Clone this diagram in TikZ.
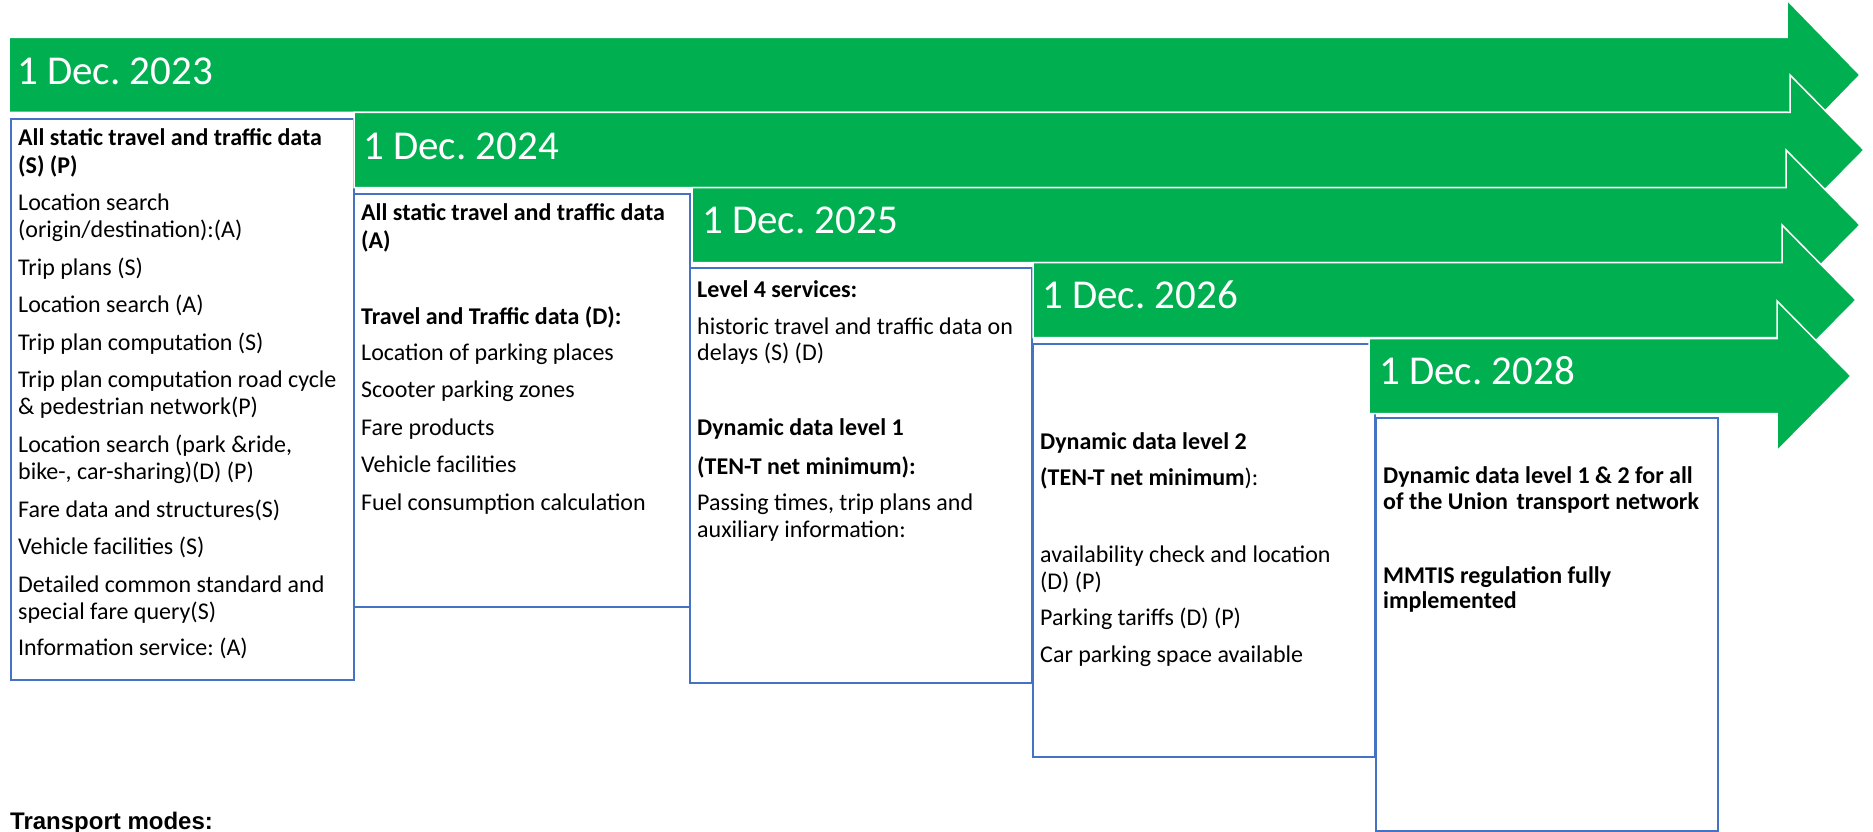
\documentclass[tikz,border=0pt]{standalone}
\usepackage{fontspec}
\setmainfont{Carlito}
\newfontfamily\arialfont{Liberation Sans}
\definecolor{arrgreen}{HTML}{00B050}
\definecolor{boxblue}{HTML}{4472C4}
\newcommand\greenarrow[4]{% left x, centre y, notch x, tip x
  \path[arrowbody] (#1,#2-37.5) -- (#3,#2-37.5) -- (#3,#2-75) -- (#4,#2)
    -- (#3,#2+75) -- (#3,#2+37.5) -- (#1,#2+37.5) -- cycle;}
\frenchspacing
\begin{document}
\begin{tikzpicture}[x=1pt,y=-1pt,
  boxframe/.style={draw=boxblue, line width=2pt, fill=white, inner sep=0pt, anchor=north west},
  arrowbody/.style={fill=arrgreen, draw=white, line width=1.5pt, line join=miter},
  datelabel/.style={text=white, font=\fontsize{41}{49}\selectfont, anchor=base west, inner sep=0pt},
  txt/.style={font=\fontsize{24}{27}\selectfont, anchor=base west, inner sep=0pt},
  btxt/.style={font=\fontsize{24}{27}\selectfont\bfseries, anchor=base west, inner sep=0pt}]
\useasboundingbox (0,0) rectangle (1873,832);
\fill[white] (0,0) rectangle (1873,832);

% ---- 2023
\greenarrow{9}{75}{1787}{1860}
\node[datelabel] (d23) at (17,85) {1 Dec. 2023};
\node[boxframe, minimum width=343pt, minimum height=561pt] (b1) at (10,118) {};
\node[btxt] (b1l1) at (18,146) {All static travel and traffic data};
\node[btxt] (b1l2) at (18,173) {(S) (P)};
\node[txt] (b1l3) at (18,210) {Location search};
\node[txt] (b1l4) at (18,237) {(origin/destination):(A)};
\node[txt] (b1l5) at (18,275) {Trip plans (S)};
\node[txt] (b1l6) at (18,312) {Location search (A)};
\node[txt] (b1l7) at (18,350) {Trip plan computation (S)};
\node[txt] (b1l8) at (18,387) {Trip plan computation road cycle};
\node[txt] (b1l9) at (18,414) {\& pedestrian network(P)};
\node[txt] (b1l10) at (18,452) {Location search (park \&ride,};
\node[txt] (b1l11) at (18,479) {bike-, car-sharing)(D) (P)};
\node[txt] (b1l12) at (18,517) {Fare data and structures(S)};
\node[txt] (b1l13) at (18,554) {Vehicle facilities (S)};
\node[txt] (b1l14) at (18,592) {Detailed common standard and};
\node[txt] (b1l15) at (18,619) {special fare query(S)};
\node[txt] (b1l16) at (18,655) {Information service: (A)};

% ---- 2024
\greenarrow{354}{150}{1790}{1864}
\node[datelabel] (d24) at (363,159) {1 Dec. 2024};
\node[boxframe, minimum width=336pt, minimum height=413pt] (b2) at (353,193) {};
\node[btxt] (b2l1) at (361,220) {All static travel and traffic data};
\node[btxt] (b2l2) at (361,248) {(A)};
\node[btxt] (b2l3) at (361,324) {Travel and Traffic data (D):};
\node[txt] (b2l4) at (361,360) {Location of parking places};
\node[txt] (b2l5) at (361,397) {Scooter parking zones};
\node[txt] (b2l6) at (361,435) {Fare products};
\node[txt] (b2l7) at (361,472) {Vehicle facilities};
\node[txt] (b2l8) at (361,510) {Fuel consumption calculation};

% ---- 2025
\greenarrow{692}{225}{1786}{1860}
\node[datelabel] (d25) at (702,233) {1 Dec. 2025};
\node[boxframe, minimum width=342pt, minimum height=415pt] (b3) at (689,267) {};
\node[btxt] (b3l1) at (697,297) {Level 4 services:};
\node[txt] (b3l2) at (697,334) {historic travel and traffic data on};
\node[txt] (b3l3) at (697,360) {delays (S) (D)};
\node[btxt] (b3l4) at (697,435) {Dynamic data level 1};
\node[btxt] (b3l5) at (697,474) {(TEN-T net minimum):};
\node[txt] (b3l6) at (697,510) {Passing times, trip plans and};
\node[txt] (b3l7) at (697,537) {auxiliary information:};

% ---- 2026
\greenarrow{1033}{300}{1782}{1856}
\node[datelabel] (d26) at (1042,308) {1 Dec. 2026};
\node[boxframe, minimum width=342pt, minimum height=413pt] (b4) at (1032,343) {};
\node[btxt] (b4l1) at (1040,449) {Dynamic data level 2};
\node[txt] (b4l2) at (1040,485) {\textbf{(TEN-T net minimum}):};
\node[txt] (b4l3) at (1040,562) {availability check and location};
\node[txt] (b4l4) at (1040,589) {(D) (P)};
\node[txt] (b4l5) at (1040,625) {Parking tariffs (D) (P)};
\node[txt] (b4l6) at (1040,662) {Car parking space available};

% ---- 2028
\greenarrow{1369}{376}{1777}{1851}
\node[datelabel] (d28) at (1379,384) {1 Dec. 2028};
\node[boxframe, minimum width=342pt, minimum height=413pt] (b5) at (1375,417) {};
\node[btxt] (b5l1) at (1383,483) {Dynamic data level 1 \& 2 for all};
\node[btxt] (b5l2) at (1383,509) {of the Union\kern3pt\ transport network};
\node[btxt] (b5l3) at (1383,583) {MMTIS regulation fully};
\node[btxt] (b5l4) at (1383,608) {implemented};

% ---- footer
\node[anchor=base west, inner sep=0pt, font=\arialfont\bfseries\fontsize{24}{28}\selectfont] (tm) at (10,829) {Transport modes:};
\end{tikzpicture}
\end{document}
